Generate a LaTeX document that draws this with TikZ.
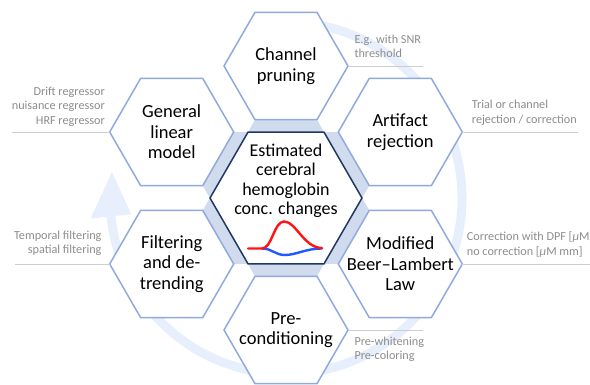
\documentclass[tikz,border=0pt]{standalone}
\usepackage{fontspec}
\setmainfont{Carlito}
\usetikzlibrary{calc,shapes.geometric,backgrounds}
\definecolor{hexblue}{RGB}{143,170,220}
\definecolor{corenavy}{RGB}{32,56,100}
\definecolor{bandblue}{RGB}{208,219,238}
\definecolor{ringblue}{RGB}{231,239,252}
\definecolor{notegray}{RGB}{140,140,140}
\definecolor{linegray}{RGB}{205,205,205}
\definecolor{hbred}{RGB}{255,20,20}
\definecolor{hbblue}{RGB}{30,90,255}

\begin{document}
\begin{tikzpicture}
          [ x=1pt, y=1pt,
            hexcell/.style={
              regular polygon,
              regular polygon sides=6,
              minimum size=124pt,
              inner sep=0pt,
              outer sep=0pt,
              draw=hexblue,
              line width=1.5pt,
              fill=white},
            corehex/.style={
              hexcell,
              minimum size=152pt,
              draw=corenavy},
            hexlabel/.style={
              align=center,
              font=\fontsize{18.5}{20.5}\selectfont},
            corelabel/.style={
              align=center,
              font=\fontsize{18}{19.5}\selectfont},
            band/.style={fill=bandblue},
            note/.style={
              inner sep=0pt,
              text=notegray,
              font=\fontsize{12.2}{14.5}\selectfont},
            noteline/.style={draw=linegray, line width=1pt},
            ring/.style={draw=ringblue, line width=9pt},
            curve/.style={line width=2.4pt, line cap=round},
          ]
          \useasboundingbox (0,0) rectangle (590,384);

          \node (core) [corehex] at (286,186) {};
          \node (prune) [hexcell] at ($(core)+(90:132)$) {};
          \node (artif) [hexcell] at ($(core)+(30:132)$) {};
          \node (beer) [hexcell] at ($(core)+(-30:132)$) {};
          \node (precond) [hexcell] at ($(core)+(-90:132)$) {};
          \node (filt) [hexcell] at ($(core)+(-150:132)$) {};
          \node (glm) [hexcell] at ($(core)+(150:132)$) {};

          \begin{pgfonlayer}{background}
            \draw[ring] ($(core)+(100:176)$) arc[start angle=100, end angle=-174, radius=176pt];
            \fill[ringblue] ($(core)+(171.5:176)$) -- ($(core)+(186:196.5)$) -- ($(core)+(186:155.5)$) -- cycle;
            \foreach \cell/\ang in {prune/90, artif/30, beer/-30, precond/-90, filt/-150, glm/150} {
              \pgfmathtruncatemacro\lo{mod(\ang+330,360)}
              \pgfmathtruncatemacro\hi{mod(\ang+390,360)}
              \pgfmathtruncatemacro\olo{mod(\ang+150,360)}
              \pgfmathtruncatemacro\ohi{mod(\ang+210,360)}
              \fill[band] (core.\lo) -- (core.\hi) -- (\cell.\olo) -- (\cell.\ohi) -- cycle;
            }
          \end{pgfonlayer}

          \node (coretext) [corelabel] at (286,203) {Estimated\\cerebral\\hemoglobin\\conc. changes};
          \node (prunetext) [hexlabel] at (prune) {Channel\\pruning};
          \node (artiftext) [hexlabel] at (artif) {Artifact\\rejection};
          \node (beertext) [hexlabel] at (beer) {Modified\\Beer--Lambert\\Law};
          \node (precondtext) [hexlabel] at (precond) {Pre-\\conditioning};
          \node (filttext) [hexlabel] at (filt) {Filtering\\and de-\\trending};
          \node (glmtext) [hexlabel] at (glm) {General\\linear\\model};

          \draw[curve, hbblue] (262,135.5) .. controls (272,135.5) and (275,129) .. (285,129) .. controls (296,129) and (306,135.5) .. (322,135.5);
          \draw[curve, hbred] (248,135.5) -- (262,135.5) .. controls (272,135.5) and (274,162.5) .. (284,162.5) .. controls (296,162.5) and (304,136) .. (322,136);

          \coordinate (prunetail) at (422.7,318);
          \coordinate (artiftail) at (578.3,252);
          \coordinate (beertail) at (590,120);
          \coordinate (precondtail) at (422.7,54);
          \coordinate (filttail) at (15,120);
          \coordinate (glmtail) at (12,252);
          \draw[noteline] (prune.0) -- (prunetail);
          \draw[noteline] (artif.0) -- (artiftail);
          \draw[noteline] (beer.0) -- (beertail);
          \draw[noteline] (precond.0) -- (precondtail);
          \draw[noteline] (filt.180) -- (filttail);
          \draw[noteline] (glm.180) -- (glmtail);

          \node (prunenote) [note, align=left, anchor=south west] at (354.3,326.2) {E.g. with SNR\\threshold};
          \node (artifnote) [note, align=left, anchor=south west] at (471.7,258.7) {Trial or channel\\rejection / correction};
          \node (beernote) [note, align=left, anchor=south west] at (466.7,126.5) {Correction with DPF [\textit{μ}M]\\no correction [\textit{μ}M mm]};
          \node (precondnote) [note, align=left, anchor=north west] at (354.3,47.5) {Pre-whitening\\Pre-coloring};
          \node (filtnote) [note, align=right, anchor=south east] at (101.7,128) {Temporal filtering\\spatial filtering};
          \node (glmnote) [note, align=right, anchor=south east] at (105,257.5) {Drift regressor\\nuisance regressor\\HRF regressor};

        \end{tikzpicture}
\end{document}
